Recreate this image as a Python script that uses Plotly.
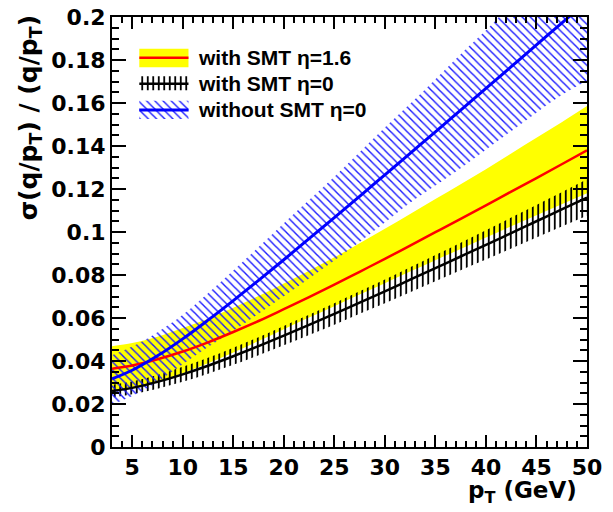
import plotly.graph_objects as go

# ---- data ----
pt = [3, 5, 7.5, 10, 12.5, 15, 17.5, 20, 22.5, 25, 27.5, 30, 32.5, 35, 37.5, 40, 42.5, 45, 47.5, 50]

# with SMT, eta = 1.6 (red line + yellow band)
smt16_center = [0.0364, 0.0379, 0.0408, 0.0444, 0.0487, 0.0535, 0.0586, 0.0641, 0.0697, 0.0755,
                0.0815, 0.0875, 0.0937, 0.0999, 0.1061, 0.1124, 0.1188, 0.1251, 0.1315, 0.1380]
smt16_err_up = [0.0105, 0.0105, 0.0105, 0.0110, 0.0110, 0.0113, 0.0116, 0.0120, 0.0123, 0.0127,
                0.0133, 0.0140, 0.0147, 0.0154, 0.0161, 0.0168, 0.0177, 0.0187, 0.0196, 0.0206]
smt16_err_dn = [0.0107, 0.0105, 0.0103, 0.0101, 0.0098, 0.0095, 0.0093, 0.0093, 0.0095, 0.0100,
                0.0106, 0.0113, 0.0121, 0.0130, 0.0140, 0.0150, 0.0161, 0.0173, 0.0186, 0.0200]

# with SMT, eta = 0 (black line + vertical hatch)
smt0_center = [0.0260, 0.0275, 0.0303, 0.0338, 0.0378, 0.0422, 0.0469, 0.0518, 0.0568, 0.0619,
               0.0672, 0.0724, 0.0778, 0.0832, 0.0886, 0.0940, 0.0995, 0.1050, 0.1105, 0.1160]
smt0_err = [0.0030, 0.0030, 0.0032, 0.0035, 0.0037, 0.0040, 0.0042, 0.0045, 0.0047, 0.0050,
            0.0052, 0.0055, 0.0058, 0.0061, 0.0064, 0.0068, 0.0072, 0.0076, 0.0080, 0.0085]

# without SMT, eta = 0 (blue line + diagonal hatch)
nosmt0_center = [0.0317, 0.0357, 0.0424, 0.0503, 0.0590, 0.0681, 0.0775, 0.0871, 0.0969, 0.1067,
                 0.1166, 0.1266, 0.1366, 0.1466, 0.1567, 0.1668, 0.1769, 0.1870, 0.1972, 0.2073]
nosmt0_err_up = [0.0110, 0.0110, 0.0110, 0.0112, 0.0125, 0.0140, 0.0155, 0.0170, 0.0180, 0.0190,
                 0.0205, 0.0220, 0.0230, 0.0245, 0.0260, 0.0270, 0.0290, 0.0310, 0.0330, 0.0350]
nosmt0_err_dn = [0.0120, 0.0120, 0.0120, 0.0118, 0.0125, 0.0140, 0.0155, 0.0170, 0.0185, 0.0200,
                 0.0212, 0.0222, 0.0230, 0.0250, 0.0270, 0.0285, 0.0300, 0.0315, 0.0335, 0.0370]

legend_labels = ["with SMT \u03b7=1.6", "with SMT \u03b7=0", "without SMT \u03b7=0"]

x_tick_vals = [5, 10, 15, 20, 25, 30, 35, 40, 45, 50]
y_tick_vals = [0, 0.02, 0.04, 0.06, 0.08, 0.1, 0.12, 0.14, 0.16, 0.18, 0.2]
y_tick_text = ["0", "0.02", "0.04", "0.06", "0.08", "0.1", "0.12", "0.14", "0.16", "0.18", "0.2"]

# ---- styles ----
YELLOW = "#ffff00"
RED = "#ff0000"
BLACK = "#000000"
BLUE = "#0000ff"
HATCH_BLUE = "#1a1aff"
CLEAR = "rgba(0,0,0,0)"
AX_FONT = dict(family="DejaVu Sans", size=22, color="black", weight="bold")
TXT_FONT = dict(family="Liberation Sans", size=21, color="black", weight="bold")

vpat = dict(shape="|", fgcolor=BLACK, bgcolor=CLEAR, size=5.5, solidity=0.33)
dpat = dict(shape="\\", fgcolor=HATCH_BLUE, bgcolor=CLEAR, size=5.8, solidity=0.24)

fig = go.Figure()


def add_band(lo, hi, **fillkw):
    fig.add_trace(go.Scatter(x=pt, y=lo, mode="lines", line=dict(width=0, shape="spline"),
                             showlegend=False, hoverinfo="skip"))
    fig.add_trace(go.Scatter(x=pt, y=hi, mode="lines", line=dict(width=0, shape="spline"),
                             fill="tonexty", showlegend=False, hoverinfo="skip", **fillkw))


y16_lo = [c - e for c, e in zip(smt16_center, smt16_err_dn)]
y16_hi = [c + e for c, e in zip(smt16_center, smt16_err_up)]
y0_lo = [c - e for c, e in zip(smt0_center, smt0_err)]
y0_hi = [c + e for c, e in zip(smt0_center, smt0_err)]
yn_lo = [c - e for c, e in zip(nosmt0_center, nosmt0_err_dn)]
yn_hi = [c + e for c, e in zip(nosmt0_center, nosmt0_err_up)]

add_band(y16_lo, y16_hi, fillcolor=YELLOW)
add_band(y0_lo, y0_hi, fillcolor=CLEAR, fillpattern=vpat)
add_band(yn_lo, yn_hi, fillcolor=CLEAR, fillpattern=dpat)

fig.add_trace(go.Scatter(x=pt, y=smt16_center, mode="lines", line=dict(color=RED, width=2.5, shape="spline"),
                         showlegend=False))
fig.add_trace(go.Scatter(x=pt, y=smt0_center, mode="lines", line=dict(color=BLACK, width=2.5, shape="spline"),
                         showlegend=False))
fig.add_trace(go.Scatter(x=pt, y=nosmt0_center, mode="lines", line=dict(color=BLUE, width=3, shape="spline"),
                         showlegend=False))

# ---- hand-drawn legend on an overlay [0,1] axis pair ----
lx0, lx1 = 0.0575, 0.161
rows = [  # (y0, y1, ymid)
    (0.883, 0.926, 0.905),
    (0.8295, 0.862, 0.845),
    (0.763, 0.805, 0.784),
]
sw_fill = [dict(fillcolor=YELLOW), dict(fillcolor=CLEAR, fillpattern=vpat), dict(fillcolor=CLEAR, fillpattern=dpat)]
sw_line = [dict(color=RED, width=2.5), dict(color=BLACK, width=2.5), dict(color=BLUE, width=3)]
for (y0, y1, ym), fkw, lkw, lab in zip(rows, sw_fill, sw_line, legend_labels):
    fig.add_trace(go.Scatter(x=[lx0, lx1, lx1, lx0, lx0], y=[y0, y0, y1, y1, y0], mode="lines",
                             line=dict(width=0), fill="toself", xaxis="x2", yaxis="y2",
                             showlegend=False, hoverinfo="skip", **fkw))
    fig.add_trace(go.Scatter(x=[lx0, lx1], y=[ym, ym], mode="lines", line=lkw, xaxis="x2", yaxis="y2",
                             showlegend=False, hoverinfo="skip"))
    fig.add_annotation(x=0.176, y=ym, xref="paper", yref="paper", text=lab, showarrow=False,
                       xanchor="left", yanchor="middle", font=TXT_FONT)

# ---- axis titles (ROOT style: right / top aligned) ----
fig.add_annotation(x=0.984, y=-0.104, xref="paper", yref="paper", text="p<sub>T</sub> (GeV)",
                   showarrow=False, xanchor="right", yanchor="middle",
                   font=dict(family="DejaVu Sans", size=23, color="black", weight="bold"))
fig.add_annotation(x=-0.172, y=1.008, xref="paper", yref="paper",
                   text="\u03c3(q/p<sub>T</sub>) / (q/p<sub>T</sub>)", textangle=-90,
                   showarrow=False, xanchor="center", yanchor="top",
                   font=dict(family="DejaVu Sans", size=25, color="black", weight="bold"))

axis_common = dict(showgrid=False, zeroline=False, showline=True, linewidth=2, linecolor="black",
                   mirror="ticks", ticks="inside", tickwidth=2, tickcolor="black", tickfont=AX_FONT,
                   automargin=False)

fig.update_layout(
    template="none",
    width=613, height=512,
    margin=dict(l=112, r=26, t=17, b=65, autoexpand=False),
    paper_bgcolor="white", plot_bgcolor="white",
    showlegend=False,
    xaxis=dict(range=[3, 50], tickmode="array", tickvals=x_tick_vals, ticklen=12,
               minor=dict(tickmode="linear", tick0=0, dtick=1, ticklen=6, tickwidth=1.5,
                          tickcolor="black", ticks="inside"),
               **axis_common),
    yaxis=dict(range=[0, 0.2], tickmode="array", tickvals=y_tick_vals, ticktext=y_tick_text, ticklen=14,
               minor=dict(tickmode="linear", tick0=0, dtick=0.005, ticklen=7, tickwidth=1.5,
                          tickcolor="black", ticks="inside"),
               **axis_common),
    xaxis2=dict(overlaying="x", range=[0, 1], visible=False, anchor="y2"),
    yaxis2=dict(overlaying="y", range=[0, 1], visible=False, anchor="x2"),
)

fig.write_html("out.html", config={"displayModeBar": False},
               post_script="document.body.style.margin='0';document.body.style.padding='0';")
